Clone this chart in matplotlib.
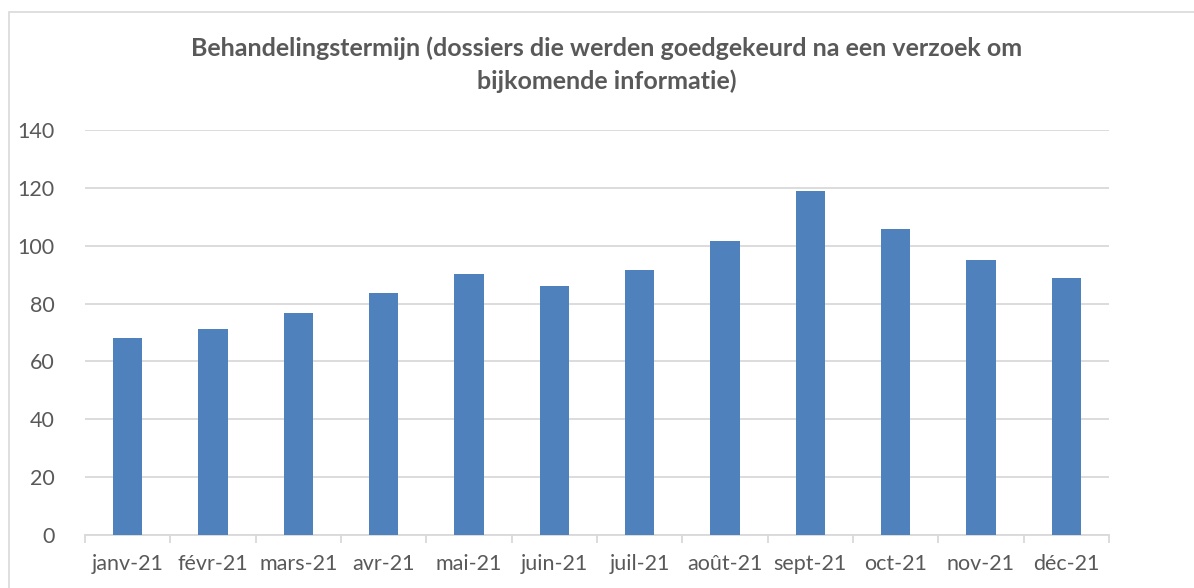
import matplotlib.pyplot as plt
from matplotlib.patches import Rectangle
import numpy as np

# Dane
maanden = ["janv-21", "févr-21", "mars-21", "avr-21", "mai-21", "juin-21",
           "juil-21", "août-21", "sept-21", "oct-21", "nov-21", "déc-21"]
termijn = [68.1, 71.2, 76.6, 83.5, 90.2, 86.1, 91.6, 101.6, 118.8, 105.9, 94.9, 88.7]
y_ticks = [0, 20, 40, 60, 80, 100, 120, 140]
titel = "Behandelingstermijn (dossiers die werden goedgekeurd na een verzoek om\nbijkomende informatie)"

plt.rcParams['font.family'] = ['Lato', 'DejaVu Sans']
tekst_kleur = "#595959"
raster_kleur = "#d9d9d9"

fig = plt.figure(figsize=(11.94, 5.88), dpi=100)
ax = fig.add_axes([85 / 1194, 1 - 535 / 588, (1109 - 85) / 1194, (535 - 130) / 588])

x = np.arange(len(maanden))
ax.bar(x, termijn, width=0.34, color="#4f81bd", zorder=3)

ax.set_xlim(-0.5, len(maanden) - 0.5)
ax.set_ylim(0, 140)
ax.set_yticks(y_ticks)
ax.set_xticks(x)
ax.set_xticklabels(maanden)
ax.set_xticks(np.arange(-0.5, len(maanden)), minor=True)

ax.grid(axis="y", color=raster_kleur, linewidth=1.3, zorder=0)
for s in ["top", "right", "left"]:
    ax.spines[s].set_visible(False)
ax.spines["bottom"].set_color(raster_kleur)
ax.spines["bottom"].set_linewidth(1.3)

ax.tick_params(axis="y", length=0, pad=22, labelsize=15.5, labelcolor=tekst_kleur)
ax.tick_params(axis="x", which="major", length=0, pad=14, labelsize=15.5, labelcolor=tekst_kleur)
ax.tick_params(axis="x", which="minor", length=6, width=1.3, color=raster_kleur)

fig.text(607 / 1194, 1 - 65 / 588, titel, ha="center", va="center", fontsize=18,
         fontweight="bold", color=tekst_kleur, linespacing=1.5)

# Kader rond de grafiek
fig.patches.append(Rectangle((9 / 1194, -0.1), 1.2, 1 - 12 / 588 + 0.1,
                             transform=fig.transFigure, fill=False,
                             edgecolor=raster_kleur, linewidth=1.2))

fig.savefig("out.png", dpi=100)
